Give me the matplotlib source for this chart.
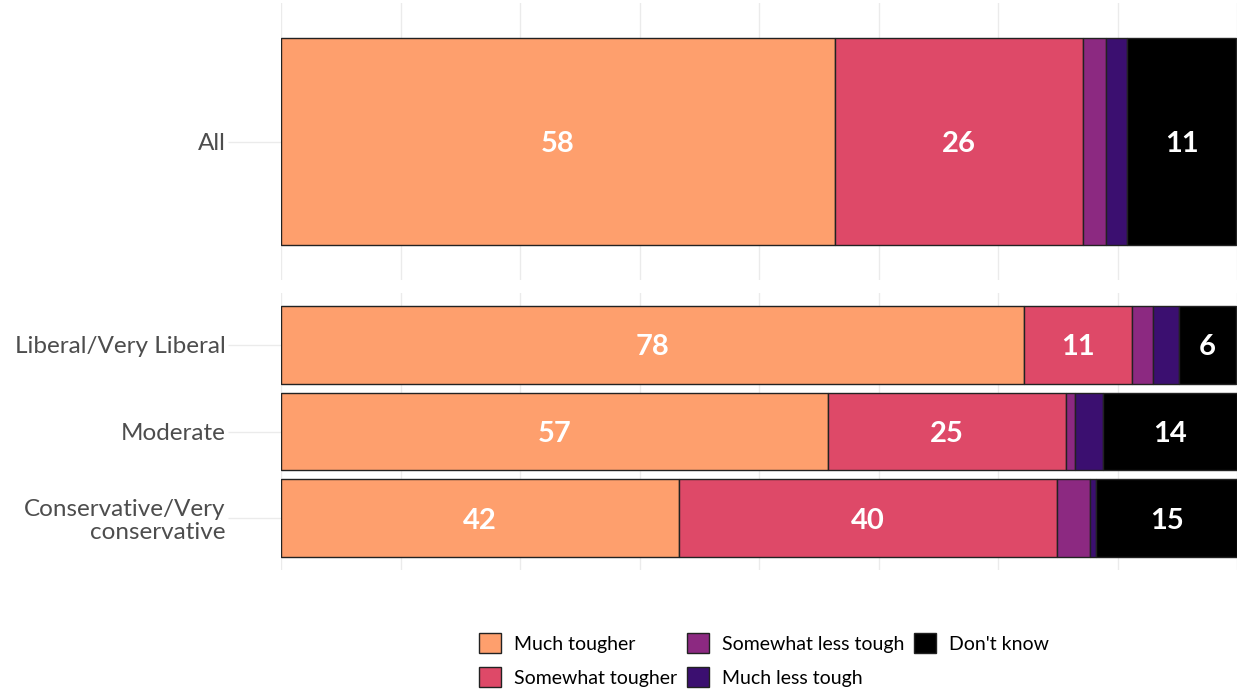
import numpy as np
import matplotlib.pyplot as plt

plt.rcParams['font.family'] = ['Lato', 'DejaVu Sans']

#%% data (percent)
groups_top = ['All']
groups_bottom = ['Liberal/Very Liberal', 'Moderate', 'Conservative/Very\nconservative']

answers = ['Much tougher', 'Somewhat tougher', 'Somewhat less tough', 'Much less tough', "Don't know"]
colors = ['#FE9F6D', '#DE4968', '#8C2981', '#3B0F70', '#000000']

much_tougher = [57.9, 77.7, 57.2, 41.6]
somewhat_tougher = [26.0, 11.3, 24.9, 39.6]
somewhat_less = [2.4, 2.2, 1.0, 3.4]
much_less = [2.2, 2.7, 2.9, 0.7]
dont_know = [11.4, 6.0, 14.0, 14.7]

series = [much_tougher, somewhat_tougher, somewhat_less, much_less, dont_know]

#%% figure
W, H = 1239, 692
fig = plt.figure(figsize=(W / 100, H / 100), dpi=100)
left, right = 281, 1237
ax1 = fig.add_axes([left / W, 1 - 280 / H, (right - left) / W, 277 / H])
ax2 = fig.add_axes([left / W, 1 - 570 / H, (right - left) / W, 277 / H])


def draw_panel(ax, labels, idx):
    ypos = np.arange(len(labels))
    start = np.zeros(len(labels))
    handles = []
    for name, vals, col in zip(answers, series, colors):
        v = np.array([vals[i] for i in idx])
        b = ax.barh(ypos, v, left=start, height=0.9, color=col,
                    edgecolor='#222222', linewidth=1, label=name, zorder=3)
        handles.append(b)
        for y, s, w in zip(ypos, start, v):
            if w > 5:
                ax.text(s + w / 2, y, '%.0f' % w, ha='center', va='center_baseline',
                        color='white', fontsize=21, fontweight='bold', zorder=4)
        start = start + v
    ax.set_xlim(0, 100)
    ax.set_ylim(len(labels) - 1 + 0.6, -0.6)
    ax.set_yticks(ypos)
    ax.set_yticklabels(labels, fontsize=17.5, color='#4D4D4D', linespacing=1.12)
    ax.set_xticks(np.arange(0, 100.1, 12.5))
    ax.set_xticklabels([])
    ax.tick_params(axis='x', length=0)
    ax.tick_params(axis='y', length=38, width=1, color='#EBEBEB', pad=2)
    ax.grid(axis='x', color='#EBEBEB', linewidth=1, zorder=0)
    for sp in ax.spines.values():
        sp.set_visible(False)
    return handles


handles = draw_panel(ax1, groups_top, [0])
draw_panel(ax2, groups_bottom, [1, 2, 3])

fig.legend(handles, answers, ncol=3, loc='center', bbox_to_anchor=(764 / W, 1 - 660 / H),
           frameon=False, fontsize=14, handlelength=1.15, handleheight=1.15,
           handletextpad=0.65, columnspacing=0.5, labelspacing=0.75)

plt.savefig('out.png', dpi=100)
